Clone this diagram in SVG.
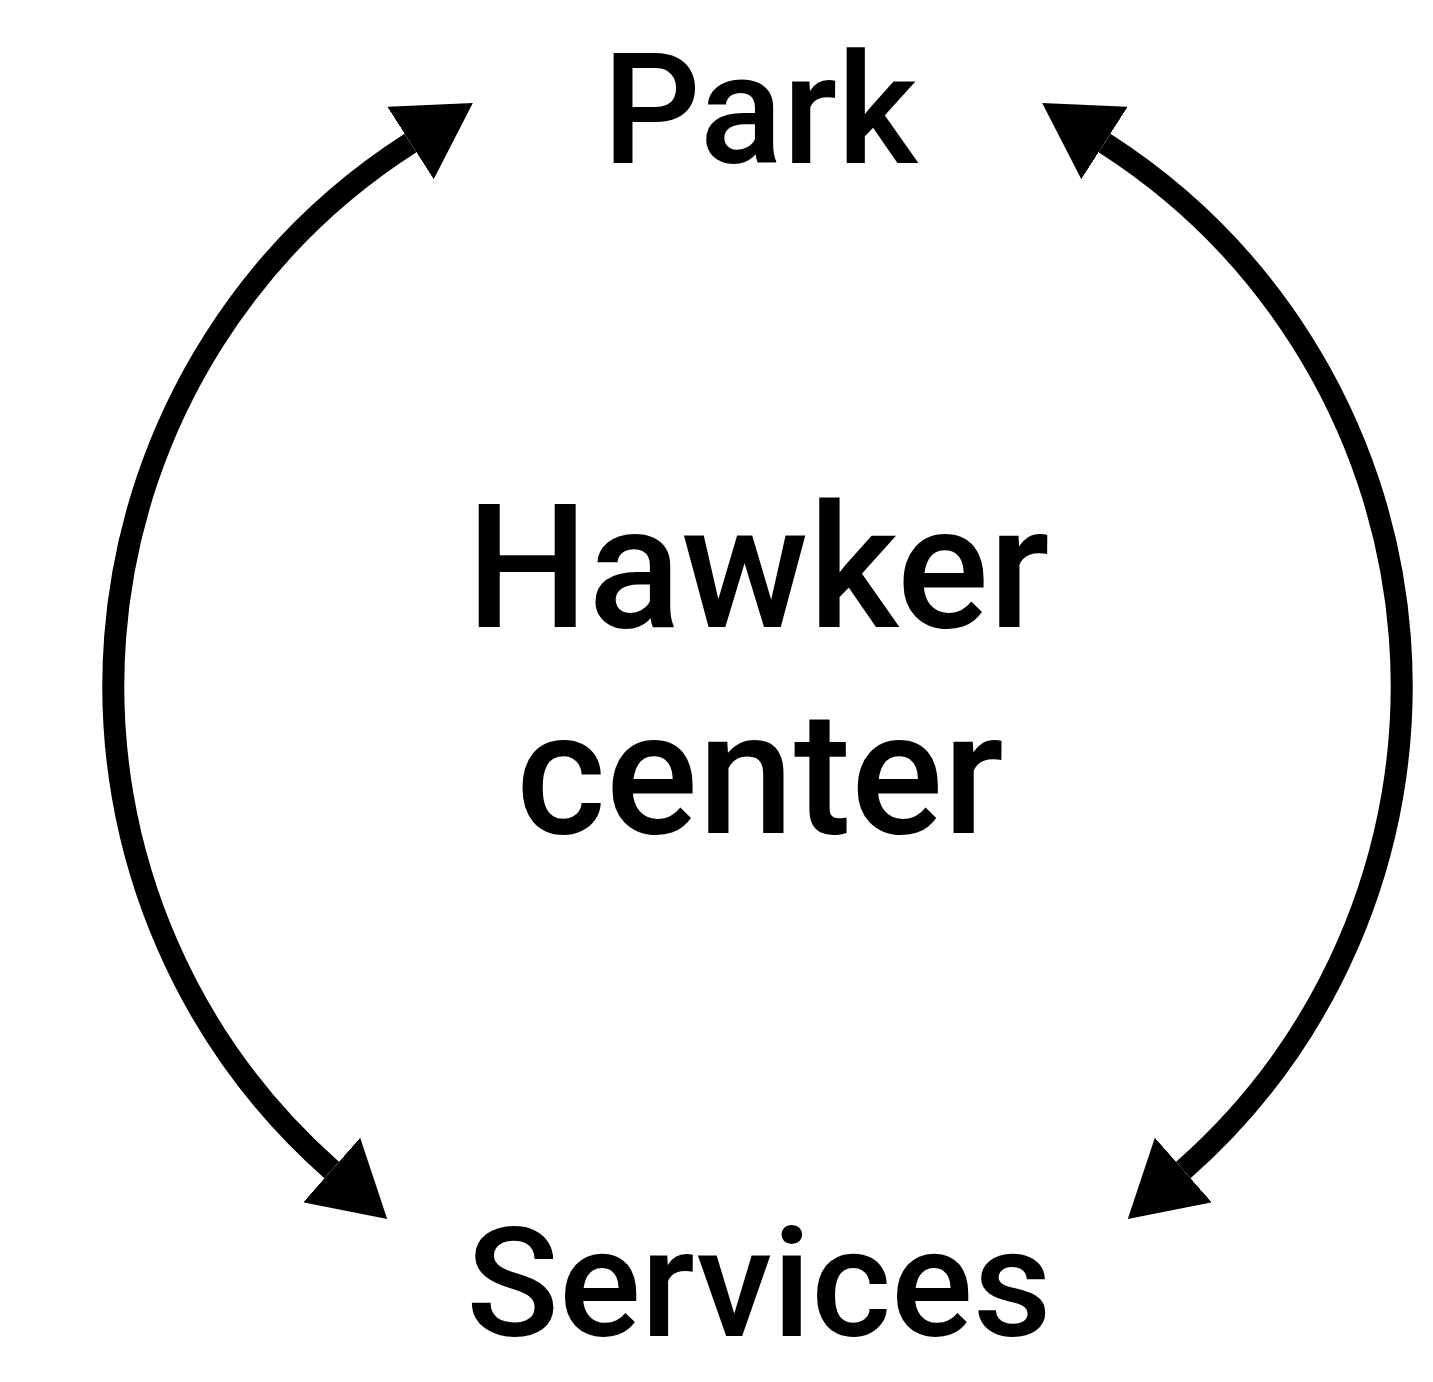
<svg xmlns="http://www.w3.org/2000/svg" width="1433" height="1382" viewBox="0 0 1433 1382">
<style>
.lbl{font-family:Roboto,"Liberation Sans",sans-serif;font-weight:500;fill:#000;text-anchor:middle}
.arc{fill:none;stroke:#000;stroke-width:22}
</style>
<defs>
<marker id="ah" viewBox="0 0 74 86" markerWidth="74" markerHeight="86" refX="0" refY="43" orient="auto-start-reverse" markerUnits="userSpaceOnUse">
<path d="M0,0 L74,43 L0,86 Z" fill="#000"/>
</marker>
</defs>
<rect width="1433" height="1382" fill="#fff"/>
<g id="connectors">
<path class="arc" d="M410.5,143 A645,645 0 0 0 331.7,1170" marker-start="url(#ah)" marker-end="url(#ah)"/>
<path class="arc" d="M1104.5,143 A645,645 0 0 1 1183.3,1170" marker-start="url(#ah)" marker-end="url(#ah)"/>
</g>
<g id="park"><text class="lbl" x="760" y="163" font-size="154">Park</text></g>
<g id="hawker"><text class="lbl" x="758" y="627" font-size="172">Hawker</text><text class="lbl" x="760" y="833" font-size="172">center</text></g>
<g id="services"><text class="lbl" x="759" y="1336" font-size="153">Services</text></g>
</svg>
